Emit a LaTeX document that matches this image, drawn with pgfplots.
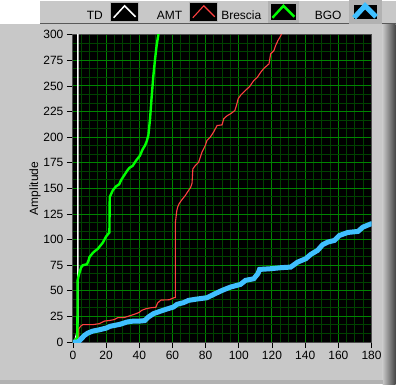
\documentclass[border=0pt]{standalone}
\usepackage{pgfplots}
\pgfplotsset{compat=1.18}
\usepackage{fontspec}
\setmainfont{Liberation Sans}
\definecolor{panel}{RGB}{200,200,200}
\definecolor{majgrid}{RGB}{0,132,0}
\definecolor{mingrid}{RGB}{0,66,0}
\definecolor{amtred}{RGB}{255,64,64}
\definecolor{brgreen}{RGB}{0,255,0}
\definecolor{bgoblue}{RGB}{64,192,255}
\begin{document}
\begin{tikzpicture}[x=1pt,y=1pt]
\fill[white] (0,0) rectangle (396,384);
\fill[panel] (40,362) rectangle (396,384);
\draw[gray!70!black,line width=1pt] (40,361.5) -- (396,361.5);
\fill[panel] (0,0) rectangle (396,360.5);
\shade[left color=panel,right color=gray!55!black] (383,0) rectangle (396,360.5);
\fill[gray!60] (0,0) rectangle (383,4);
\begin{axis}[
  at={(73pt,42.3pt)}, anchor=south west,
  scale only axis, width=299pt, height=307.7pt,
  xmin=0, xmax=180, ymin=0, ymax=300,
  xtick={0,20,...,180}, ytick={0,25,...,300},
  minor x tick num=3, minor y tick num=2,
  grid=both,
  major grid style={majgrid, line width=1pt},
  minor grid style={mingrid, line width=1pt},
  axis background/.style={fill=black},
  tick align=outside, tick pos=left,
  major tick length=6pt, minor tick length=0pt,
  tick style={black, line width=0.8pt},
  axis line style={gray!60!black, line width=1pt},
  tick label style={font=\fontsize{12}{14}\selectfont},
  /pgf/number format/assume math mode=true,
  ylabel={Amplitude},
  ylabel style={font=\fontsize{12}{14}\selectfont, at={(axis description cs:-0.127,0.5)}, anchor=center},
  legend columns=4,
  legend plot pos=right,
  legend style={at={(axis description cs:1.0334,1.0741)}, anchor=east,
    draw=none, fill=none, inner sep=0pt, outer sep=0pt,
    font=\fontsize{12}{14}\selectfont, /tikz/column sep=5pt},
  legend image code/.code={
    \fill[black,draw=gray!60] (0pt,-5.7pt) rectangle (28pt,13.3pt);
    \draw[#1] (3pt,-2pt) -- (14pt,10pt) -- (25pt,-1pt);
  },
]
\addplot[white, line width=1.5pt] coordinates {
(1,0) (2.5,10) (3,20) (3,310)
};
\addlegendentry{\makebox[36pt][r]{TD}}
\addplot[amtred, line width=1.1pt] coordinates {
(3.5,0) (3.5,13) (5,16) (6,17) (12,17) (14,17.5) (16,18) (19,20.5) (22,21) (25,22)
(27,23.8) (31,24) (35,26) (38,27.7) (40,29) (41.5,31) (44,32.5) (47,33.5) (50,34)
(51,38) (53,41) (58,41.3) (61,43.3) (61.8,43.5) (61.8,117) (62.6,128) (63.2,132)
(64,135) (65.7,139) (67.7,143) (69.7,148) (71,151) (71.8,155) (72.3,169) (73.8,172.4)
(75.8,175.6) (76.8,180.5) (77.8,185.4) (79.8,192) (80.8,196.8) (82.8,200) (84.8,205)
(86.9,211.4) (89.9,212) (90.9,218) (93,221) (95,222.8) (97.6,226) (98.6,231)
(99.6,237.5) (101,240.7) (104,245.6) (106.7,249.8) (109,255.3) (111.2,258.5)
(113.2,263.4) (115.2,267.3) (118.2,271.6) (119.2,281.4) (121.2,284.6) (122.2,289.5)
(123.6,294.4) (125.3,299) (126,302)
};
\addlegendentry{\makebox[36pt][r]{AMT}}
\addplot[brgreen, line width=2.4pt] coordinates {
(0,0) (1.5,2) (2.7,5) (2.8,60) (3.5,65) (4,68) (5,73) (6,75) (8.5,76) (9.5,80)
(10,83) (11,85) (12,87) (13,88.5) (15,91) (16,93) (18,97) (19,100) (20,103) (21,105)
(22,107) (22.2,141.5) (24,148) (26,152) (27.9,154) (29,158) (31,163) (32.6,167)
(34,170) (36,172) (38,177) (40.4,182) (42,188) (43.5,192) (44.5,196) (45.5,202)
(46.5,218) (47.5,240) (48.5,260) (49.5,276) (50.5,290) (51.5,300) (52,305)
};
\addlegendentry{\makebox[36pt][r]{Brescia}}
\addplot[bgoblue, line width=5pt] coordinates {
(0,0) (3,0) (4,1.5) (5.5,4) (7,6.5) (9,8.8) (12,10.7) (16,12) (20.2,13.7) (22.4,15.4)
(28.3,17.3) (32.4,19.5) (36.5,20.5) (40.4,20.5) (43.4,21) (45.5,24.4) (48.5,27.7)
(52.5,30) (56.6,32.2) (60.6,34.2) (62.7,36.8) (66.7,38.5) (69.7,40.7) (74.8,42)
(80.8,43.3) (84.8,46.5) (89.9,50.4) (95,53.7) (101,56.3) (104,60.2) (109,61.8)
(111.5,66.7) (112.5,70.9) (119.2,71.6) (125.3,72.6) (131.3,73.2) (135.4,78)
(140.4,81.4) (143.4,85.6) (147.5,89.5) (150.5,95) (153.6,97.6) (157.6,99.2)
(160.6,104) (165.7,107) (171.8,108) (174.8,112.2) (179.8,115.5) (180,115.5)
};
\addlegendentry{\makebox[36pt][r]{BGO}}
\end{axis}
\end{tikzpicture}
\end{document}
